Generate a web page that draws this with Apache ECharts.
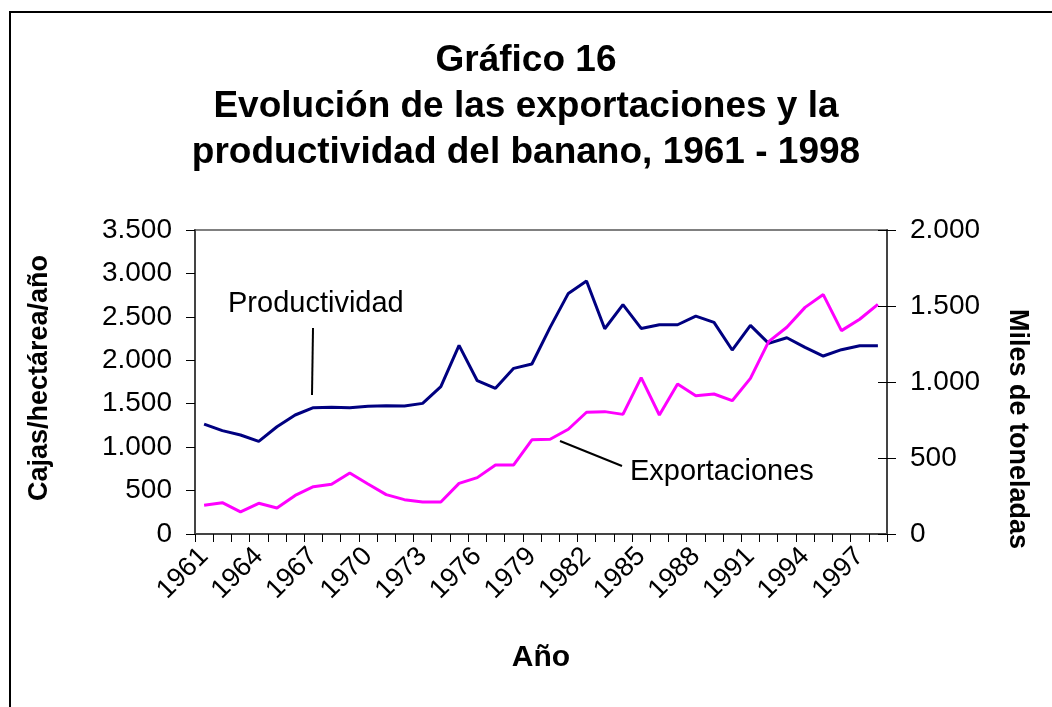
<!DOCTYPE html>
<html>
<head>
<meta charset="utf-8">
<script src="https://cdn.jsdelivr.net/npm/echarts@6/dist/echarts.min.js"></script>
<style>
  html, body { margin: 0; padding: 0; background: #fff; }
  #chart { width: 1052px; height: 707px; }
</style>
</head>
<body>
<div id="chart"></div>
<script>
// años 1961 - 1998
var years = [
  "1961", "1962", "1963", "1964", "1965", "1966", "1967", "1968", "1969", "1970",
  "1971", "1972", "1973", "1974", "1975", "1976", "1977", "1978", "1979", "1980",
  "1981", "1982", "1983", "1984", "1985", "1986", "1987", "1988", "1989", "1990",
  "1991", "1992", "1993", "1994", "1995", "1996", "1997", "1998"
];
// cajas/hectárea/año (eje izquierdo)
var productividad = [
  1265, 1190, 1140, 1067, 1235, 1370, 1454, 1458, 1454, 1470,
  1477, 1473, 1504, 1696, 2172, 1765, 1677, 1907, 1957, 2379,
  2770, 2912, 2363, 2640, 2367, 2409, 2409, 2509, 2436, 2118,
  2402, 2195, 2260, 2149, 2049, 2122, 2168, 2168
];
// miles de toneladas (eje derecho)
var exportaciones = [
  189, 206, 145, 202, 171, 254, 311, 327, 401, 329,
  259, 226, 211, 211, 333, 371, 454, 454, 620, 623,
  689, 801, 805, 787, 1029, 783, 987, 910, 921, 877,
  1024, 1266, 1360, 1491, 1575, 1338, 1413, 1511
];
var leftTicks = [0, 3500, 500];
var rightTicks = [0, 2000, 500];

function miles(v) {
  return String(v).replace(/\B(?=(\d{3})+(?!\d))/g, ".");
}

var FONT = "Liberation Sans, Arial, sans-serif";
var chart = echarts.init(document.getElementById("chart"));

var option = {
  backgroundColor: "#fff",
  animation: false,
  textStyle: { fontFamily: FONT, color: "#000" },
  title: {
    text: "Gráfico 16\nEvolución de las exportaciones y la\nproductividad del banano, 1961 - 1998",
    left: "center",
    top: 33,
    textStyle: { fontFamily: FONT, fontSize: 37, fontWeight: "bold", lineHeight: 46, color: "#000" }
  },
  grid: {
    left: 195, right: 165, top: 230, bottom: 173,
    show: true, borderColor: "#808080", borderWidth: 2
  },
  xAxis: {
    type: "category",
    data: years,
    boundaryGap: true,
    axisLine: { lineStyle: { color: "#444", width: 2 } },
    axisTick: { show: true, interval: 0, length: 8, lineStyle: { color: "#000" } },
    axisLabel: { interval: 2, rotate: 45, fontSize: 27, color: "#000", fontFamily: FONT, margin: 18 },
    splitLine: { show: false }
  },
  yAxis: [
    {
      type: "value", position: "left",
      min: leftTicks[0], max: leftTicks[1], interval: leftTicks[2],
      axisLine: { show: true, lineStyle: { color: "#444", width: 2 } },
      axisTick: { show: true, length: 9, lineStyle: { color: "#000" } },
      axisLabel: { fontSize: 28, color: "#000", fontFamily: FONT, margin: 23, formatter: miles },
      splitLine: { show: false }
    },
    {
      type: "value", position: "right",
      min: rightTicks[0], max: rightTicks[1], interval: rightTicks[2],
      axisLine: { show: true, lineStyle: { color: "#444", width: 2 } },
      axisTick: { show: true, length: 9, lineStyle: { color: "#000" } },
      axisLabel: { fontSize: 28, color: "#000", fontFamily: FONT, margin: 23, formatter: miles },
      splitLine: { show: false }
    },
    {
      // marcas interiores del eje derecho (marcas cruzadas)
      type: "value", position: "right",
      min: rightTicks[0], max: rightTicks[1], interval: rightTicks[2],
      axisLine: { show: false },
      axisTick: { show: true, inside: true, length: 9, lineStyle: { color: "#000" } },
      axisLabel: { show: false },
      splitLine: { show: false }
    }
  ],
  series: [
    {
      name: "Productividad",
      type: "line",
      yAxisIndex: 0,
      data: productividad,
      symbol: "none",
      lineStyle: { color: "#000080", width: 3 },
      z: 3
    },
    {
      name: "Exportaciones",
      type: "line",
      yAxisIndex: 1,
      data: exportaciones,
      symbol: "none",
      lineStyle: { color: "#FF00FF", width: 3 },
      z: 4
    }
  ],
  graphic: [
    {
      type: "rect", silent: true, z: -1,
      shape: { x: 10, y: 12, width: 1100, height: 800 },
      style: { fill: "none", stroke: "#000", lineWidth: 2 }
    },
    {
      type: "text", x: 40, y: 378, rotation: Math.PI / 2,
      style: { text: "Cajas/hectárea/año", font: "bold 27px " + FONT, fill: "#000", align: "center", verticalAlign: "middle" }
    },
    {
      type: "text", x: 1017, y: 429, rotation: -Math.PI / 2,
      style: { text: "Miles de toneladas", font: "bold 27px " + FONT, fill: "#000", align: "center", verticalAlign: "middle" }
    },
    {
      type: "text", x: 541, y: 658,
      style: { text: "Año", font: "bold 30px " + FONT, fill: "#000", align: "center", verticalAlign: "middle" }
    },
    {
      type: "text", x: 228, y: 304,
      style: { text: "Productividad", font: "29px " + FONT, fill: "#000", align: "left", verticalAlign: "middle" }
    },
    {
      type: "line",
      shape: { x1: 313, y1: 328, x2: 312, y2: 395 },
      style: { stroke: "#000", lineWidth: 2 }
    },
    {
      type: "text", x: 630, y: 472,
      style: { text: "Exportaciones", font: "29px " + FONT, fill: "#000", align: "left", verticalAlign: "middle" }
    },
    {
      type: "line",
      shape: { x1: 560, y1: 441, x2: 622, y2: 466 },
      style: { stroke: "#000", lineWidth: 2 }
    }
  ]
};
chart.setOption(option);
</script>
</body>
</html>
